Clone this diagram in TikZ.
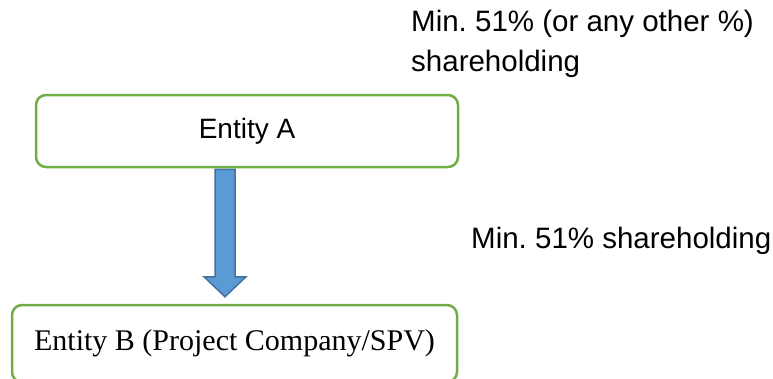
\documentclass[tikz,border=0pt]{standalone}
\usepackage{fontspec}
\setmainfont{Liberation Serif}
\setsansfont{Liberation Sans}
\usetikzlibrary{positioning, calc}
\definecolor{boxgreen}{HTML}{70AD47}
\definecolor{arrowblue}{HTML}{5B9BD5}
\definecolor{arrowedge}{HTML}{41719C}
\frenchspacing

\begin{document}
\begin{tikzpicture}[
  x=1pt, y=-1pt,
  entitybox/.style={rectangle, rounded corners=10pt, draw=boxgreen, line width=2.5pt, fill=white, inner sep=0pt},
  blockarrow/.style={draw=arrowedge, fill=arrowblue, line width=1.5pt, line join=miter},
  note/.style={font=\fontsize{29.5}{40}\selectfont\sffamily, inner sep=0pt, align=left}
]
  \useasboundingbox (0,0) rectangle (773,378);

  % Entities
  \node[entitybox, minimum width=422pt, minimum height=72pt, font=\fontsize{28}{34}\selectfont\sffamily] (entA) at (247,131) {Entity A};
  \node[entitybox, minimum width=445pt, minimum height=77pt, font=\fontsize{30}{36}\selectfont\rmfamily] (entB) at (234.5,343.5) {Entity B (Project Company/SPV)};

  % Shareholding notes
  \node[note, anchor=north west] (shareA) at (411,10) {Min. 51\% (or any other \%)\\shareholding};
  \node[note, anchor=base west] (shareB) at (471,248) {Min. 51\% shareholding};

  % Block arrow
  \coordinate (arrtop) at ([xshift=-22pt]entA.south);
  \coordinate (arrtip) at ([yshift=7pt]arrtop |- entB.north);
  \draw[blockarrow] ($(arrtop)+(-10,1)$) -- ($(arrtip)+(-10,-20)$) -- ($(arrtip)+(-21,-20)$) -- (arrtip)
    -- ($(arrtip)+(21,-20)$) -- ($(arrtip)+(10,-20)$) -- ($(arrtop)+(10,1)$) -- cycle;
\end{tikzpicture}
\end{document}
